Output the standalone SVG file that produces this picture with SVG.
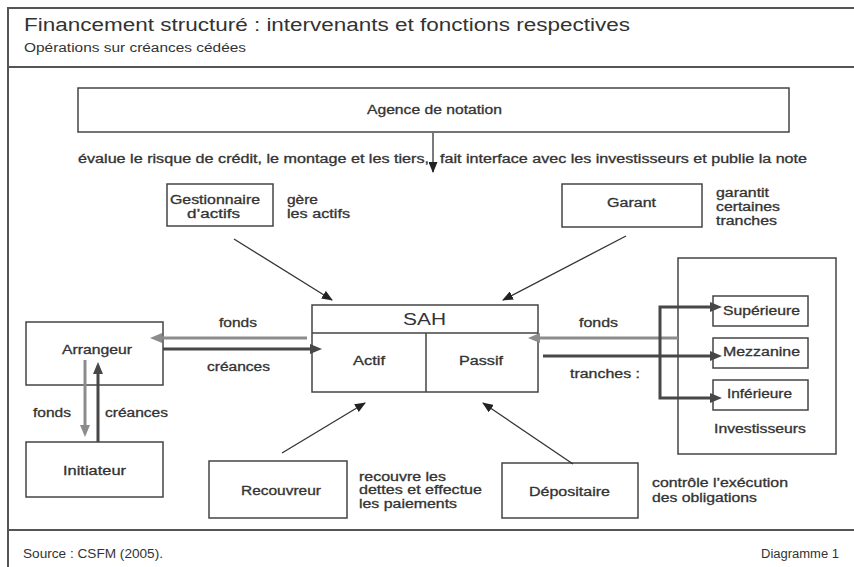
<svg xmlns="http://www.w3.org/2000/svg" width="854" height="567" viewBox="0 0 854 567">
  <style>
    text { font-family: "Liberation Sans", Arial, sans-serif; fill: #333; }
    .lbl { font-size: 12.5px; stroke: #333; stroke-width: 0.3; }
    .box { fill: #fff; stroke: #444; stroke-width: 1.5; }
    .open { fill: none; stroke: #444; stroke-width: 1.5; }
    .frame { stroke: #555; stroke-width: 2; fill: none; }
    .thin { stroke: #333; stroke-width: 1.3; fill: none; marker-end: url(#ah-thin); }
    .gray { stroke: #8c8c8c; stroke-width: 3; fill: none; marker-end: url(#ah-gray); }
    .dark { stroke: #474747; stroke-width: 3; fill: none; marker-end: url(#ah-dark); }
  </style>
  <defs>
    <marker id="ah-thin" viewBox="0 0 11 9" refX="10" refY="4.5" markerWidth="11" markerHeight="9" markerUnits="userSpaceOnUse" orient="auto">
      <path d="M0,0 L11,4.5 L0,9 z" fill="#222"/>
    </marker>
    <marker id="ah-gray" viewBox="0 0 12 10" refX="4" refY="5" markerWidth="12" markerHeight="10" markerUnits="userSpaceOnUse" orient="auto">
      <path d="M0,0 L12,5 L0,10 z" fill="#8c8c8c"/>
    </marker>
    <marker id="ah-dark" viewBox="0 0 12 10" refX="4" refY="5" markerWidth="12" markerHeight="10" markerUnits="userSpaceOnUse" orient="auto">
      <path d="M0,0 L12,5 L0,10 z" fill="#474747"/>
    </marker>
  </defs>

  <rect width="854" height="567" fill="#fff"/>

  <!-- page frame and header / footer -->
  <g id="frame">
    <path class="frame" d="M8,567 V8 H854 M8,67 H854 M8,530 H854"/>
    <text x="24" y="31" font-size="18" textLength="606" lengthAdjust="spacingAndGlyphs">Financement structuré : intervenants et fonctions respectives</text>
    <text x="24" y="52" font-size="12" textLength="222" lengthAdjust="spacingAndGlyphs">Opérations sur créances cédées</text>
    <text x="23" y="558" font-size="12" textLength="140" lengthAdjust="spacingAndGlyphs">Source : CSFM (2005).</text>
    <text x="761" y="558" font-size="12" textLength="78" lengthAdjust="spacingAndGlyphs">Diagramme 1</text>
  </g>

  <g id="agence">
    <rect class="box" x="78" y="88" width="711" height="44"/>
    <text class="lbl" x="367" y="114" textLength="135" lengthAdjust="spacingAndGlyphs">Agence de notation</text>
  </g>

  <g id="gestionnaire">
    <rect class="box" x="167" y="184" width="106" height="42"/>
    <text class="lbl" x="170" y="204" textLength="90" lengthAdjust="spacingAndGlyphs">Gestionnaire</text>
    <text class="lbl" x="187" y="218" textLength="53" lengthAdjust="spacingAndGlyphs">d’actifs</text>
    <text class="lbl" x="287" y="204" textLength="31" lengthAdjust="spacingAndGlyphs">gère</text>
    <text class="lbl" x="287" y="218" textLength="63" lengthAdjust="spacingAndGlyphs">les actifs</text>
  </g>

  <g id="garant">
    <rect class="box" x="562" y="184" width="140" height="43"/>
    <text class="lbl" x="607" y="207" textLength="49" lengthAdjust="spacingAndGlyphs">Garant</text>
    <text class="lbl" x="716" y="197" textLength="53" lengthAdjust="spacingAndGlyphs">garantit</text>
    <text class="lbl" x="716" y="211" textLength="64" lengthAdjust="spacingAndGlyphs">certaines</text>
    <text class="lbl" x="716" y="225" textLength="61" lengthAdjust="spacingAndGlyphs">tranches</text>
  </g>

  <g id="sah">
    <rect class="box" x="312" y="305" width="226" height="87"/>
    <path d="M312,333 H538 M426,333 V392" stroke="#444" stroke-width="1.5" fill="none"/>
    <text x="403" y="325" font-size="16" textLength="43" lengthAdjust="spacingAndGlyphs">SAH</text>
    <text class="lbl" x="353" y="365" textLength="32" lengthAdjust="spacingAndGlyphs">Actif</text>
    <text class="lbl" x="459" y="365" textLength="44" lengthAdjust="spacingAndGlyphs">Passif</text>
  </g>

  <g id="arrangeur">
    <rect class="box" x="26" y="322" width="137" height="63"/>
    <text class="lbl" x="62" y="354" textLength="70" lengthAdjust="spacingAndGlyphs">Arrangeur</text>
  </g>

  <g id="initiateur">
    <rect class="box" x="26" y="442" width="137" height="55"/>
    <text class="lbl" x="63" y="475" textLength="63" lengthAdjust="spacingAndGlyphs">Initiateur</text>
  </g>

  <g id="recouvreur">
    <rect class="box" x="209" y="461" width="138" height="57"/>
    <text class="lbl" x="241" y="495" textLength="80" lengthAdjust="spacingAndGlyphs">Recouvreur</text>
    <text class="lbl" x="359" y="481" textLength="87" lengthAdjust="spacingAndGlyphs">recouvre les</text>
    <text class="lbl" x="359" y="494" textLength="123" lengthAdjust="spacingAndGlyphs">dettes et effectue</text>
    <text class="lbl" x="359" y="508" textLength="98" lengthAdjust="spacingAndGlyphs">les paiements</text>
  </g>

  <g id="depositaire">
    <rect class="box" x="502" y="463" width="136" height="55"/>
    <text class="lbl" x="529" y="496" textLength="81" lengthAdjust="spacingAndGlyphs">Dépositaire</text>
    <text class="lbl" x="652" y="487" textLength="136" lengthAdjust="spacingAndGlyphs">contrôle l’exécution</text>
    <text class="lbl" x="652" y="502" textLength="105" lengthAdjust="spacingAndGlyphs">des obligations</text>
  </g>

  <g id="investisseurs">
    <rect class="open" x="678" y="258" width="158" height="196"/>
    <text class="lbl" x="714" y="433" textLength="92" lengthAdjust="spacingAndGlyphs">Investisseurs</text>
  </g>
  <g id="superieure">
    <rect class="open" x="713" y="296" width="95" height="30"/>
    <text class="lbl" x="723" y="315" textLength="77" lengthAdjust="spacingAndGlyphs">Supérieure</text>
  </g>
  <g id="mezzanine">
    <rect class="open" x="713" y="338" width="95" height="30"/>
    <text class="lbl" x="723" y="356" textLength="77" lengthAdjust="spacingAndGlyphs">Mezzanine</text>
  </g>
  <g id="inferieure">
    <rect class="open" x="713" y="380" width="95" height="30"/>
    <text class="lbl" x="727" y="398" textLength="65" lengthAdjust="spacingAndGlyphs">Inférieure</text>
  </g>

  <!-- connectors (drawn over the boxes so the heads reach inside them) -->
  <g id="connectors">
    <line class="thin" x1="433" y1="133" x2="433" y2="172"/>
    <line class="thin" x1="234" y1="239" x2="332" y2="300"/>
    <line class="thin" x1="626" y1="236" x2="503" y2="300"/>
    <line class="thin" x1="282" y1="453" x2="365" y2="403"/>
    <line class="thin" x1="573" y1="464" x2="483" y2="403"/>

    <line class="gray" x1="307" y1="338" x2="158" y2="338"/>
    <line class="dark" x1="163" y1="349" x2="314" y2="349"/>
    <line class="gray" x1="85" y1="360" x2="85" y2="429"/>
    <line class="dark" x1="98" y1="442" x2="98" y2="370"/>

    <line class="gray" x1="678" y1="338" x2="536" y2="338"/>
    <path class="dark" d="M543,356 H714"/>
    <path class="dark" d="M660,356 V307 H714"/>
    <path class="dark" d="M660,356 V398 H714"/>
  </g>

  <!-- connector labels -->
  <g id="connector-labels" class="lbl">
    <text x="78" y="163" textLength="351" lengthAdjust="spacingAndGlyphs">évalue le risque de crédit, le montage et les tiers,</text>
    <text x="440" y="163" textLength="367" lengthAdjust="spacingAndGlyphs">fait interface avec les investisseurs et publie la note</text>
    <text x="219" y="327" textLength="38" lengthAdjust="spacingAndGlyphs">fonds</text>
    <text x="207" y="371" textLength="63" lengthAdjust="spacingAndGlyphs">créances</text>
    <text x="33" y="417" textLength="38" lengthAdjust="spacingAndGlyphs">fonds</text>
    <text x="105" y="417" textLength="63" lengthAdjust="spacingAndGlyphs">créances</text>
    <text x="579" y="327" textLength="39" lengthAdjust="spacingAndGlyphs">fonds</text>
    <text x="570" y="378" textLength="70" lengthAdjust="spacingAndGlyphs">tranches :</text>
  </g>
</svg>
